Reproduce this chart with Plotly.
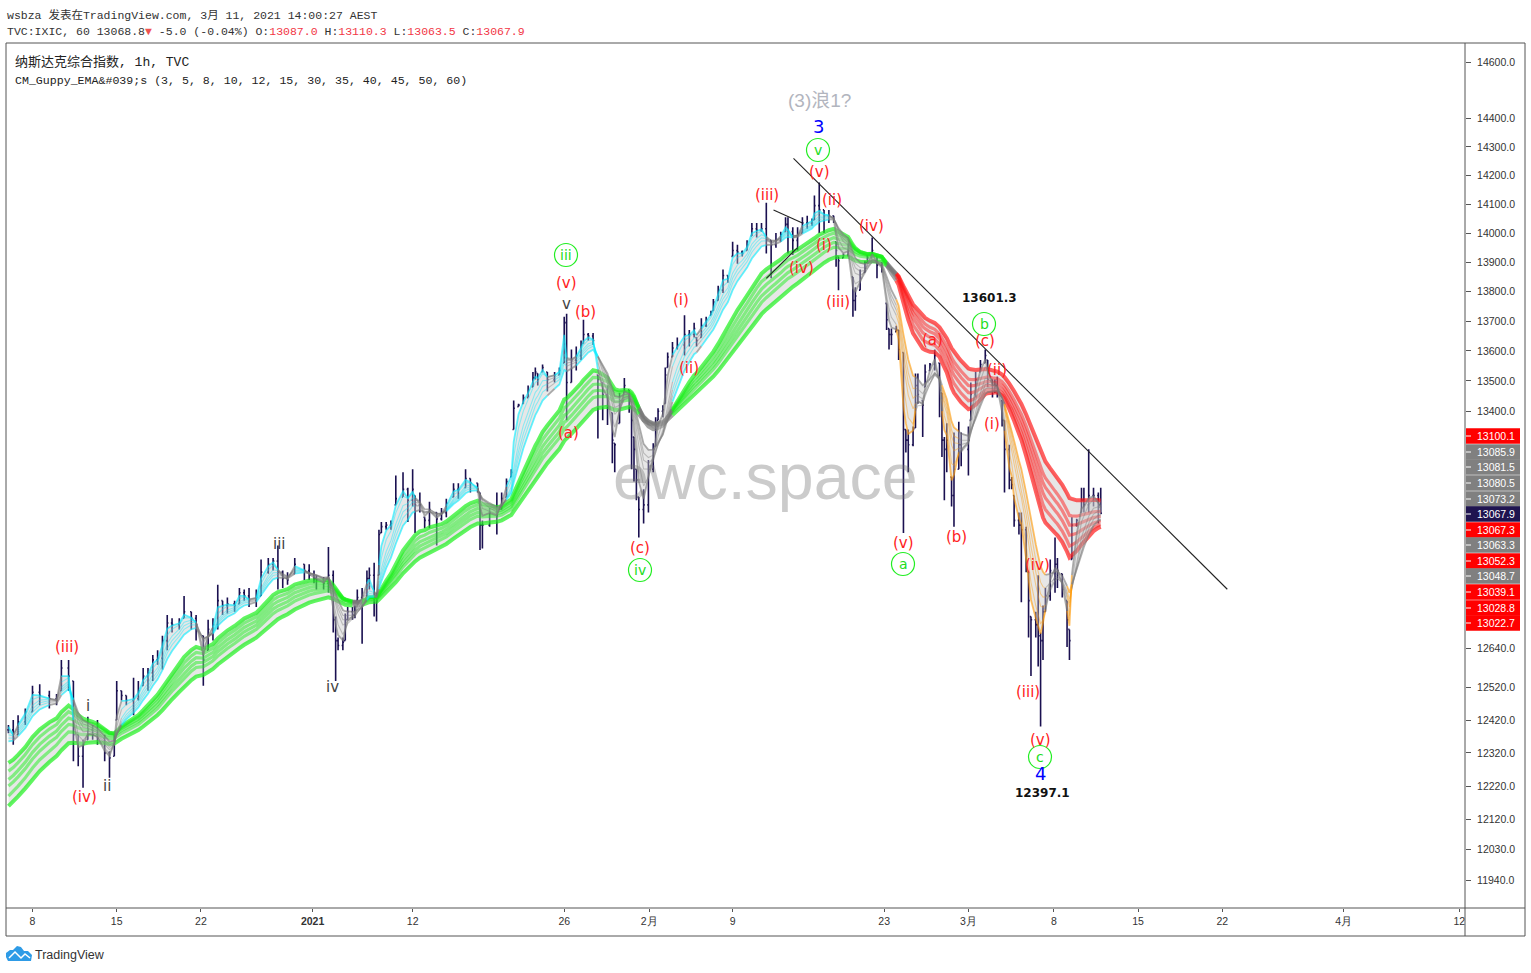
import numpy as np
import plotly.graph_objects as go

# ---------- data ----------
bar_hour = [-10,-8,-6,-3,0,3,7,10,12,15,17,19,21,23,25,27,30,32,34,35,37,39,42,44,46,48,50,52,54,56,58,61,63,66,68,71,73,75,77,79,81,84,86,88,90,93,95,98,100,102,104,106,109,113,115,117,118,121,123,125,126,127,129,130,131,133,134,135,137,139,140,142,143,144,145,147,149,151,154,156,158,159,161,163,165,168,170,172,175,177,180,182,185,186,187,190,193,195,197,199,200,202,204,206,208,209,210,212,214,217,219,221,222,224,226,228,229,231,233,235,237,239,241,242,244,246,248,249,250,251,252,254,256,258,259,260,262,263,264,266,268,271,273,275,276,278,280,282,283,285,287,289,291,293,295,297,299,301,303,305,307,309,311,313,314,316,318,320,322,324,325,327,329,331,333,334,335,337,339,341,342,344,346,347,349,351,353,355,356,357,359,360,362,363,364,366,367,368,370,371,373,375,377,378,379,380,382,383,385,386,389,390,392,394,396,397,399,400,401,403,404,406,407,408,410,411,413,414,415,417,418,419,420,421,423,425,426,428,430,431,432,434,436,437,439,441,443,444]
bar_high = [12405,12420,12435,12455,12525,12530,12510,12500,12605,12605,12540,12375,12360,12430,12405,12420,12375,12325,12375,12540,12510,12495,12550,12540,12580,12580,12620,12635,12680,12745,12735,12735,12805,12755,12745,12680,12730,12735,12840,12790,12800,12790,12830,12825,12830,12825,12920,12925,12925,12965,12885,12880,12925,12905,12905,12885,12870,12865,12960,12885,12740,12675,12675,12750,12770,12770,12775,12825,12830,12885,12895,12910,12815,13015,13040,13040,13045,13190,13200,13150,13210,13125,13135,13055,13105,13070,13085,13115,13165,13165,13210,13180,13165,13135,13045,13085,13135,13135,13180,13210,13435,13425,13455,13485,13530,13545,13525,13555,13530,13530,13545,13715,13725,13605,13615,13635,13705,13660,13660,13520,13495,13485,13395,13295,13460,13510,13470,13415,13315,13210,13120,13145,13240,13295,13380,13410,13420,13545,13595,13630,13645,13720,13670,13695,13645,13710,13715,13735,13775,13820,13875,13855,13970,13960,13940,13975,14035,14035,14035,14105,13975,14000,14005,14055,14055,14020,14020,14055,14060,14050,14130,14175,14080,14080,14060,13970,13920,13930,13965,13850,13815,13875,13905,13925,13985,13920,13900,13760,13675,13675,13685,13670,13595,13340,13340,13350,13525,13525,13435,13555,13560,13605,13560,13460,13315,13360,13185,13330,13365,13330,13350,13495,13530,13570,13605,13570,13505,13505,13515,13435,13370,13290,13185,13125,13070,13070,13025,12880,12740,12755,12870,12690,12775,12830,12920,12990,12925,12875,12790,12700,13055,13050,13150,13150,13275,13150,13135,13150]
bar_low = [12380,12345,12375,12405,12445,12465,12455,12465,12510,12510,12295,12280,12215,12360,12360,12345,12295,12245,12310,12420,12480,12465,12435,12480,12525,12510,12540,12590,12575,12635,12690,12700,12735,12700,12665,12525,12635,12665,12700,12745,12750,12755,12780,12790,12770,12770,12805,12875,12885,12825,12830,12840,12875,12855,12855,12845,12825,12825,12815,12690,12540,12635,12635,12665,12730,12730,12735,12790,12655,12800,12825,12740,12725,12870,13005,13015,13015,13095,13120,13040,13090,13005,13070,13020,13020,12965,13045,13055,13120,13115,13150,13135,13135,12950,12955,13025,13000,13080,13120,13185,13340,13415,13425,13445,13480,13505,13485,13530,13465,13495,13520,13560,13370,13495,13535,13570,13625,13635,13620,13310,13370,13355,13230,13200,13360,13460,13395,13210,13170,13110,12990,13035,13070,13200,13285,13370,13380,13425,13545,13580,13605,13585,13615,13645,13615,13645,13680,13720,13735,13770,13795,13830,13920,13895,13920,13940,13990,13985,14005,13930,13845,13950,13970,14005,13930,13925,13940,14000,14015,14025,14045,14000,14000,14035,14035,13885,13805,13915,13920,13715,13735,13805,13865,13900,13915,13845,13865,13670,13605,13620,13665,13570,13005,13265,13200,13285,13345,13425,13315,13480,13535,13535,13380,13250,13110,13200,13090,13025,13210,13220,13190,13370,13445,13530,13560,13480,13445,13460,13445,13350,13135,13145,13145,13025,13000,12785,12880,12675,12555,12675,12585,12400,12605,12755,12790,12815,12830,12800,12645,12605,12920,13025,13070,13070,13070,13090,13035,13065]
bar_close = [12390,12365,12415,12445,12505,12495,12485,12480,12580,12555,12375,12310,12345,12390,12375,12365,12320,12305,12365,12510,12495,12480,12485,12510,12555,12565,12605,12610,12665,12720,12715,12720,12755,12735,12715,12605,12700,12715,12790,12775,12780,12775,12815,12805,12790,12800,12880,12905,12915,12880,12860,12855,12905,12885,12870,12860,12855,12845,12870,12730,12665,12650,12660,12730,12755,12745,12760,12800,12805,12860,12870,12805,12790,13000,13025,13030,13035,13115,13145,13110,13145,13095,13095,13045,13080,13050,13070,13100,13145,13145,13180,13165,13145,13030,13030,13070,13060,13115,13170,13200,13410,13420,13445,13470,13510,13530,13505,13545,13505,13520,13535,13695,13495,13570,13585,13620,13655,13650,13635,13505,13455,13435,13305,13290,13435,13485,13455,13370,13275,13175,13080,13095,13210,13275,13355,13400,13405,13520,13580,13610,13620,13655,13655,13675,13635,13685,13705,13730,13765,13805,13855,13845,13940,13935,13930,13960,14015,14010,14015,13975,13960,13975,13995,14030,14005,13975,13995,14035,14035,14045,14095,14080,14060,14060,14045,13940,13905,13925,13940,13770,13785,13845,13880,13915,13940,13890,13875,13705,13655,13655,13670,13605,13340,13305,13290,13340,13485,13455,13420,13530,13555,13585,13470,13305,13275,13305,13125,13210,13290,13275,13305,13455,13505,13555,13585,13505,13470,13485,13470,13370,13275,13175,13160,13045,13030,13015,12885,12790,12730,12715,12680,12665,12755,12805,12885,12905,12885,12825,12730,12665,13030,13045,13110,13095,13125,13125,13095,13068]

ema_periods = [3, 5, 8, 10, 12, 15, 30, 35, 40, 45, 50, 60]
ema_start = [12400, 12395, 12385, 12375, 12365, 12355, 12290, 12265, 12240, 12220, 12190, 12160]

price_ticks = [14600,14400,14300,14200,14100,14000,13900,13800,13700,13600,13500,13400,12640,12520,12420,12320,12220,12120,12030,11940]
time_ticks = [0, 35, 70, 116.4, 158, 221, 256.3, 291, 354, 389, 424.5, 459.5, 494.5, 545, 593]
time_labels = ['8','15','22','<b>2021</b>','12','26','2月','9','23','3月','8','15','22','4月','12']

tag_values = ['13100.1','13085.9','13081.5','13080.5','13073.2','13067.9','13067.3','13063.3','13052.3','13048.7','13039.1','13028.8','13022.7']
tag_colors = ['#ff0000','#808080','#808080','#808080','#808080','#1f1450','#ff0000','#808080','#ff0000','#808080','#ff0000','#ff0000','#ff0000']

trend_hour = [[316.3, 496.6], [308, 320], [305, 318]]
trend_price = [[14260, 12826], [14080, 14035], [13845, 13950]]

# ---------- frame geometry ----------
W, H = 1531, 973
L, R, T, B = 7, 1465, 43, 908
def px(x): return (x - L) / (R - L)
def py(y): return (B - y) / (B - T)

INK = '#1a1050'

# ---------- indicator lines, exponential averages of the closes ----------
hours = np.array(bar_hour, float)
closes = np.array(bar_close, float)
emas = np.zeros((len(ema_periods), len(closes)))
for k, (n, s) in enumerate(zip(ema_periods, ema_start)):
    a = 2 / (n + 1)
    e = s
    emas[k, 0] = e
    for i in range(1, len(closes)):
        e += (1 - (1 - a) ** (hours[i] - hours[i - 1])) * (closes[i] - e)
        emas[k, i] = e

fast, slow = emas[:6], emas[6:]
TOL = 3
slow_up = np.all(slow[:-1] > slow[1:] - TOL, axis=0)
slow_dn = np.all(slow[:-1] < slow[1:] + TOL, axis=0)
fast_up = np.all(fast[:-1] > fast[1:], axis=0)
fast_dn = np.all(fast[:-1] < fast[1:], axis=0)
fast_state = np.where(fast_up & slow_up, 1, np.where(fast_dn & slow_dn, -1, 0))
slow_state = np.where(slow_up & ~slow_dn, 1, np.where(slow_dn & ~slow_up, -1, 0))

FAST_RGB = {1: '0,235,255', -1: '255,152,0', 0: '120,120,120'}
SLOW_RGB = {1: '20,240,20', -1: '255,20,20', 0: '120,120,120'}

fig = go.Figure()

def add_fill(top, bot):
    fig.add_trace(go.Scatter(x=hours, y=top, mode='lines', line=dict(width=0), hoverinfo='skip'))
    fig.add_trace(go.Scatter(x=hours, y=bot, mode='lines', line=dict(width=0), fill='tonexty',
                             fillcolor='rgba(195,195,195,0.4)', hoverinfo='skip'))

def add_runs(y, state, rgb, width, alpha):
    i = 0
    while i < len(y):
        j = i
        while j + 1 < len(y) and state[j + 1] == state[i]:
            j += 1
        end = min(j + 2, len(y))
        fig.add_trace(go.Scatter(x=hours[i:end], y=y[i:end], mode='lines',
                                 line=dict(color=f'rgba({rgb[int(state[i])]},{alpha})', width=width),
                                 hoverinfo='skip'))
        i = j + 1

add_fill(slow[0], slow[-1])
for k in range(6):
    outer = k in (0, 5)
    add_runs(slow[k], slow_state, SLOW_RGB, 4 if outer else 3.2, 0.68 if outer else 0.48)
add_fill(fast[0], fast[-1])
for k in range(6):
    outer = k in (0, 5)
    add_runs(fast[k], fast_state, FAST_RGB, 1.8 if outer else 1.1, 0.6 if outer else 0.4)

opens = [bar_close[0]] + bar_close[:-1]
opens = [min(max(o, l), h) for o, l, h in zip(opens, bar_low, bar_high)]
fig.add_trace(go.Ohlc(x=bar_hour, open=opens, high=bar_high, low=bar_low, close=bar_close,
                      increasing=dict(line=dict(color=INK, width=1.6)),
                      decreasing=dict(line=dict(color=INK, width=1.6)),
                      tickwidth=0.5, hoverinfo='skip'))

for tx, ty in zip(trend_hour, trend_price):
    fig.add_trace(go.Scatter(x=tx, y=ty, mode='lines', line=dict(color='#222222', width=1.1), hoverinfo='skip'))

# ---------- annotations ----------
ann = []
def text(s, x, y, color='#333', size=12, family='Liberation Sans', anchor='center', **kw):
    ann.append(dict(text=s, x=px(x), y=py(y), xref='paper', yref='paper', showarrow=False,
                    xanchor=anchor, yanchor='middle', font=dict(color=color, size=size, family=family), **kw))

MONO = 'Liberation Mono, Noto Sans CJK SC'
RD = '#f23645'
text('wsbza 发表在TradingView.com, 3月 11, 2021 14:00:27 AEST', 4.5, 15, '#333', 11.5, MONO, 'left')
text(f'TVC:IXIC, 60 13068.8<span style="color:#ef5350">▼</span> -5.0 (-0.04%) O:<span style="color:{RD}">13087.0</span> '
     f'H:<span style="color:{RD}">13110.3</span> L:<span style="color:{RD}">13063.5</span> C:<span style="color:{RD}">13067.9</span>',
     4.5, 31, '#333', 11.5, MONO, 'left')
text('纳斯达克综合指数, 1h, TVC', 13, 62, '#222', 13, MONO, 'left')
text('CM_Guppy_EMA&amp;#039;s (3, 5, 8, 10, 12, 15, 30, 35, 40, 45, 50, 60)', 13, 80, '#222', 11.6, MONO, 'left')

text('ewc.space', 765, 477, 'rgba(110,110,110,0.36)', 64.5, 'Liberation Sans')
text('(3)浪1?', 820, 101, '#b2b5be', 19, 'Liberation Sans, Noto Sans CJK SC')

wave_red = [('(iii)',67,647),('(iv)',84,797),('(iii)',767,195),('(v)',819,172),('(ii)',832,200),('(i)',824,245),
            ('(iv)',801,268),('(iv)',872,226),('(iii)',838,302),('(a)',568,433),('(b)',585,312),('(v)',566,283),
            ('(c)',640,548),('(i)',681,300),('(ii)',689,368),('(v)',903,543),('(a)',933,340),('(b)',956,537),
            ('(c)',985,341),('(ii)',997,370),('(i)',992,424),('(iv)',1037,565),('(iii)',1028,692),('(v)',1040,740)]
for s, x, y in wave_red:
    text(s, x, y, '#ff2222', 15, 'DejaVu Sans')
for s, x, y in [('i',88,706),('ii',107,786),('iii',279,544),('iv',332,687),('v',566,304)]:
    text(s, x, y, '#444', 15, 'DejaVu Sans')
text('3', 818, 127, '#0000ff', 18, 'DejaVu Sans')
text('4', 1040, 773, '#0000ff', 18, 'DejaVu Sans')
text('<b>13601.3</b>', 989, 298, '#111', 12, 'DejaVu Sans')
text('<b>12397.1</b>', 1042, 793, '#111', 12, 'DejaVu Sans')

shapes = []
circled = [('v',818,150),('iii',566,255),('iv',640,570),('a',903,564),('b',984,324),('c',1040,757)]
for s, x, y in circled:
    text(s, x, y, '#22dd22', 14, 'DejaVu Sans')
    shapes.append(dict(type='circle', xref='paper', yref='paper', x0=px(x-11.5), x1=px(x+11.5), y0=py(y+11.5), y1=py(y-11.5),
                       line=dict(color='#22ee22', width=1.2)))

tag_y = [436,452,467,483,499,514,530,545,561,576,592,608,623]
for v, c, y in zip(tag_values, tag_colors, tag_y):
    shapes.append(dict(type='rect', xref='paper', yref='paper', x0=px(1466), x1=px(1520), y0=py(y+7.8), y1=py(y-7.8),
                       fillcolor=c, line=dict(width=0), layer='above'))
    shapes.append(dict(type='line', xref='paper', yref='paper', x0=px(1466), x1=px(1471), y0=py(y), y1=py(y),
                       line=dict(color='white', width=1), layer='above'))
    text(v, 1496, y, 'white', 10.5, 'Liberation Sans')

# frame
for x0, y0, x1, y1 in [(6,43,1525,43),(6,43,6,936),(1525,43,1525,936),(6,936,1525,936),(6,908,1525,908),(1465,43,1465,936)]:
    shapes.append(dict(type='line', xref='paper', yref='paper', x0=px(x0), x1=px(x1), y0=py(y0), y1=py(y1),
                       line=dict(color='#555', width=1), layer='above'))

# logo
def P(x, y): return f'{px(x):.5f},{py(y):.5f}'
cloud = [(6,957),(6,953),(10,950),(13,950),(17,946),(21,947),(24,951),(28,951),(32,955),(31,961),(8,961)]
shapes.append(dict(type='path', xref='paper', yref='paper', fillcolor='#2e9be6', line=dict(width=0),
                   path='M' + ' L'.join(P(*p) for p in cloud) + ' Z'))
zig = [(9,958),(15,952),(21,958),(25,954),(30,958)]
shapes.append(dict(type='path', xref='paper', yref='paper', line=dict(color='white', width=1.5),
                   path='M' + ' L'.join(P(*p) for p in zig)))
text('TradingView', 32.5, 955, '#333', 12.5, 'Liberation Sans', 'left')

fig.update_layout(
    width=W, height=H, margin=dict(l=L, r=W - R, t=T, b=H - B),
    paper_bgcolor='white', plot_bgcolor='white', showlegend=False, hovermode=False,
    annotations=ann, shapes=shapes,
    xaxis=dict(range=[-10.6, 595.4], tickvals=time_ticks, ticktext=time_labels, showgrid=False, zeroline=False,
               ticks='outside', ticklen=3, tickcolor='#555', tickfont=dict(size=10.5, color='#333', family='Liberation Sans'),
               rangeslider=dict(visible=False), showline=False),
    yaxis=dict(type='log', side='right', range=[np.log10(11859), np.log10(14670)], tickvals=price_ticks,
               ticktext=[f'{v}.0' for v in price_ticks], ticklabelstandoff=4,
               showgrid=False, zeroline=False, ticks='outside', ticklen=5, tickcolor='#555',
               tickfont=dict(size=10.5, color='#333', family='Liberation Sans'), showline=False),
)
fig.write_html('out.html', config=dict(displayModeBar=False),
               post_script="document.body.style.margin='0';document.body.style.overflow='hidden';")
